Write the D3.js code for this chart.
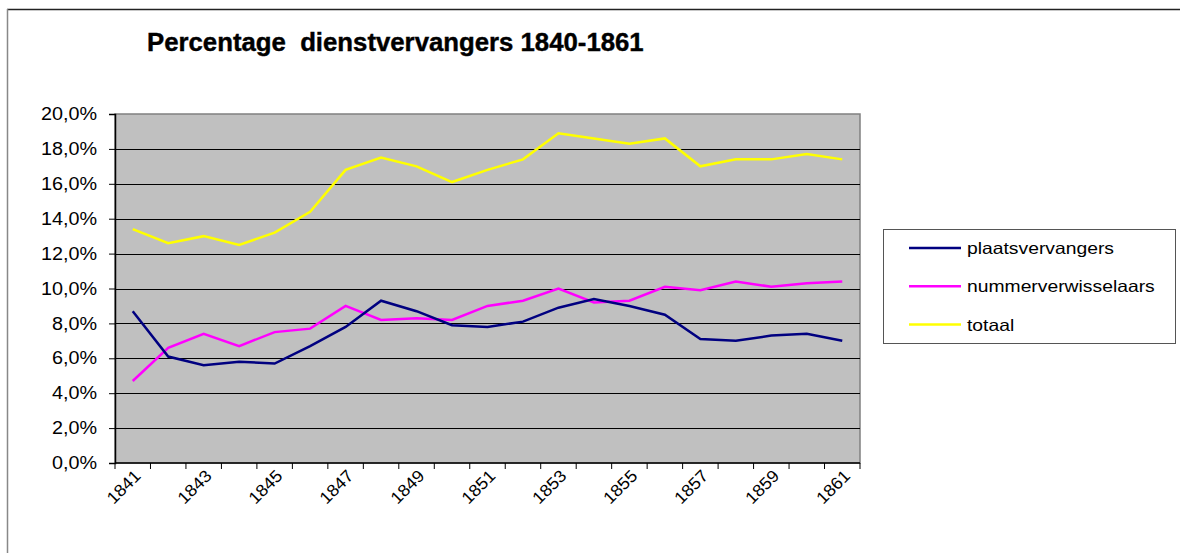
<!DOCTYPE html>
<html>
<head>
<meta charset="utf-8">
<script src="https://cdn.jsdelivr.net/npm/d3@7"></script>
<style>
  body { margin: 0; background: #fff; }
  svg { display: block; font-family: "Liberation Sans", Arial, sans-serif; }
</style>
</head>
<body>
<div id="container"></div>
<script>
// jaartallen en percentages
const years = [1841,1842,1843,1844,1845,1846,1847,1848,1849,1850,1851,1852,1853,1854,1855,1856,1857,1858,1859,1860,1861];
const plaatsvervangers = [8.7,6.1,5.6,5.8,5.7,6.7,7.8,9.3,8.7,7.9,7.8,8.1,8.9,9.4,9.0,8.5,7.1,7.0,7.3,7.4,7.0];
const nummerverwisselaars = [4.7,6.6,7.4,6.7,7.5,7.7,9.0,8.2,8.3,8.2,9.0,9.3,10.0,9.2,9.3,10.1,9.9,10.4,10.1,10.3,10.4];
const totaal = [13.4,12.6,13.0,12.5,13.2,14.4,16.8,17.5,17.0,16.1,16.8,17.4,18.9,18.6,18.3,18.6,17.0,17.4,17.4,17.7,17.4];
const yTicks = [0,2,4,6,8,10,12,14,16,18,20];

const series = [
  {name: "plaatsvervangers", values: plaatsvervangers, color: "#000080"},
  {name: "nummerverwisselaars", values: nummerverwisselaars, color: "#FF00FF"},
  {name: "totaal", values: totaal, color: "#FFFF00"}
];

const w = 1180, h = 553;
const margin = {top: 114, left: 115, bottom: 90, right: 320};
const graphWidth = w - margin.left - margin.right;
const graphHeight = h - margin.top - margin.bottom;

// tekst iets breder trekken, zoals in het origineel
function stretch(sel, factor) {
  sel.each(function() {
    const len = this.getComputedTextLength();
    d3.select(this).attr("textLength", len * factor).attr("lengthAdjust", "spacingAndGlyphs");
  });
}

const svg = d3.select("#container").append("svg").attr("width", w).attr("height", h);

// kader rond de hele grafiek
svg.append("line").attr("x1", 7).attr("x2", w).attr("y1", 9.5).attr("y2", 9.5)
  .attr("stroke", "#222").attr("stroke-width", 1.5);
svg.append("line").attr("x1", 7.5).attr("x2", 7.5).attr("y1", 9).attr("y2", h)
  .attr("stroke", "#888").attr("stroke-width", 1.5);

const title = svg.append("text")
  .attr("x", 147).attr("y", 51)
  .attr("font-size", 25).attr("font-weight", "bold")
  .attr("stroke", "#000").attr("stroke-width", 0.4)
  .style("white-space", "pre")
  .text("Percentage  dienstvervangers 1840-1861");
stretch(title, 1.03);

const graph = svg.append("g").attr("transform", `translate(${margin.left}, ${margin.top})`);

const xScale = d3.scaleBand().domain(years).range([0, graphWidth]);
const yScale = d3.scaleLinear().domain([0, 20]).range([graphHeight, 0]);

graph.append("rect")
  .attr("width", graphWidth).attr("height", graphHeight)
  .attr("fill", "#C0C0C0").attr("stroke", "#808080").attr("stroke-width", 1.5);

// rasterlijnen
graph.selectAll(".grid")
  .data(yTicks.slice(1, -1))
  .enter().append("line")
    .attr("class", "grid")
    .attr("x1", 0).attr("x2", graphWidth)
    .attr("y1", d => Math.round(yScale(d)) + 0.5).attr("y2", d => Math.round(yScale(d)) + 0.5)
    .attr("stroke", "#000").attr("stroke-width", 1);

// y-as
const yAxis = d3.axisLeft(yScale)
  .tickValues(yTicks)
  .tickSize(6).tickPadding(12)
  .tickFormat(d => d.toFixed(1).replace(".", ",") + "%");
const yAxisGroup = graph.append("g").call(yAxis);
yAxisGroup.select(".domain").attr("stroke", "#000").attr("stroke-width", 1.5);
yAxisGroup.selectAll("text").attr("font-size", 17.5).attr("fill", "#000")
  .attr("font-family", "Liberation Sans, Arial, sans-serif");
stretch(yAxisGroup.selectAll("text"), 1.13);

// x-as: streepjes tussen de categorieen
const xAxisGroup = graph.append("g").attr("transform", `translate(0, ${graphHeight})`);
xAxisGroup.append("line").attr("x1", 0).attr("x2", graphWidth).attr("y1", 0).attr("y2", 0)
  .attr("stroke", "#000").attr("stroke-width", 1.5);
xAxisGroup.selectAll(".xtick")
  .data(years.concat([years[years.length - 1] + 1]))
  .enter().append("line")
    .attr("class", "xtick")
    .attr("x1", (d, i) => i * xScale.step()).attr("x2", (d, i) => i * xScale.step())
    .attr("y1", 0).attr("y2", 6)
    .attr("stroke", "#000");
const xLabels = xAxisGroup.selectAll(".xlabel")
  .data(years.filter((d, i) => i % 2 === 0))
  .enter().append("text")
    .attr("class", "xlabel")
    .attr("text-anchor", "end")
    .attr("font-size", 17)
    .attr("transform", d => `translate(${xScale(d) + xScale.bandwidth() / 2 + 9}, 14) rotate(-45)`)
    .text(d => d);
stretch(xLabels, 1.05);

const line = d3.line()
  .x((d, i) => xScale(years[i]) + xScale.bandwidth() / 2)
  .y(d => yScale(d));

graph.selectAll(".serie")
  .data(series.slice().reverse())
  .enter().append("path")
    .attr("class", "serie")
    .attr("d", d => line(d.values))
    .attr("fill", "none")
    .attr("stroke", d => d.color)
    .attr("stroke-width", 2.5);

// legenda
const legend = svg.append("g").attr("transform", "translate(883, 229)");
legend.append("rect").attr("x", 0.5).attr("y", 0.5).attr("width", 292).attr("height", 114)
  .attr("fill", "#fff").attr("stroke", "#555");
legend.selectAll(".item")
  .data(series)
  .enter().append("g")
    .attr("class", "item")
    .attr("transform", (d, i) => `translate(0, ${19 + i * 38.3})`)
    .each(function(d) {
      const g = d3.select(this);
      g.append("line").attr("x1", 26).attr("x2", 78).attr("y1", 0).attr("y2", 0)
        .attr("stroke", d.color).attr("stroke-width", 2.5);
      g.append("text").attr("x", 84).attr("y", 6).attr("font-size", 16.5).text(d.name);
    });
stretch(legend.selectAll("text"), 1.17);
</script>
</body>
</html>
